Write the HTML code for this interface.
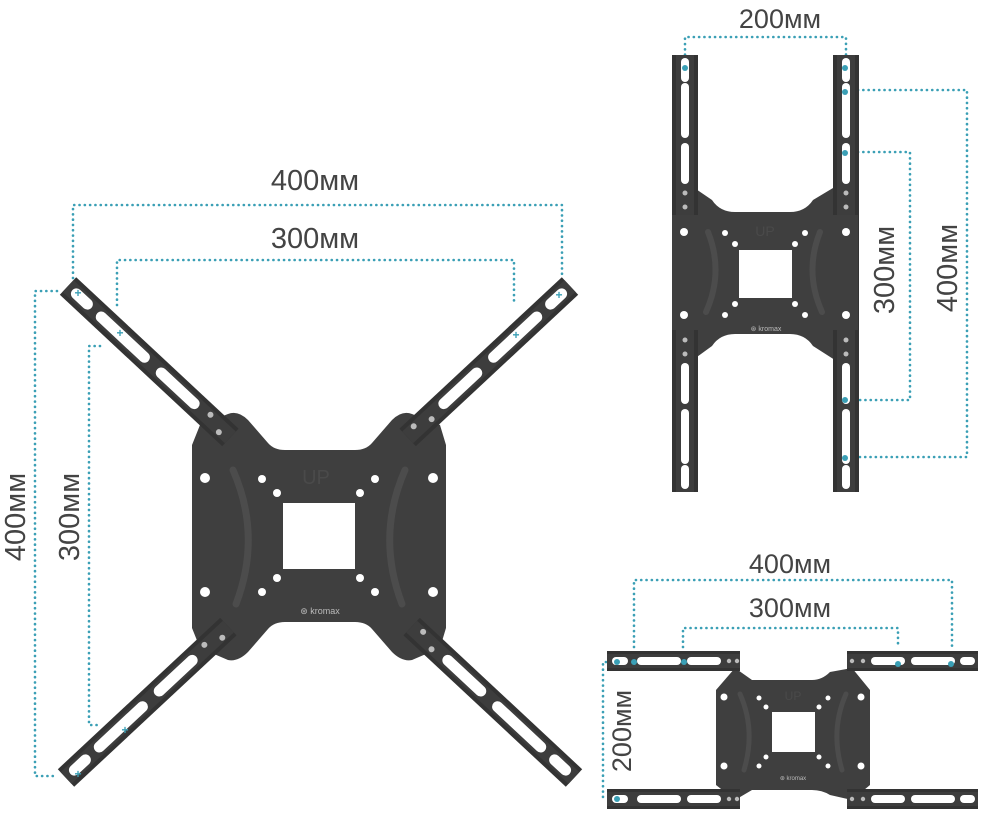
<!DOCTYPE html>
<html><head><meta charset="utf-8"><style>
html,body{margin:0;padding:0;background:#fff;}
svg{display:block;}
text{font-family:"Liberation Sans","DejaVu Sans",sans-serif;fill:#444;}
</style></head><body>
<svg width="984" height="816" viewBox="0 0 984 816" xmlns="http://www.w3.org/2000/svg">
<defs>
 <g id="arm">
  <rect x="0" y="-12" width="222" height="24" fill="#333"/>
  <rect x="0" y="-8" width="222" height="16" fill="#3d3d3d"/>
  <rect x="6" y="-5.5" width="26" height="11" rx="5.5" fill="#fff"/>
  <rect x="40" y="-5.5" width="70" height="11" rx="5.5" fill="#fff"/>
  <rect x="122" y="-5.5" width="56" height="11" rx="5.5" fill="#fff"/>
  <circle cx="192" cy="-3" r="3" fill="#bbb"/>
  <circle cx="210" cy="4" r="3" fill="#bbb"/>
 </g>
 <g id="vbar">
  <rect x="0" y="0" width="26" height="437" fill="#333"/>
  <rect x="4" y="0" width="18" height="437" fill="#3d3d3d"/>
  <rect x="9" y="3" width="8" height="24" rx="4" fill="#fff"/>
  <rect x="9" y="28" width="8" height="55" rx="4" fill="#fff"/>
  <rect x="9" y="88" width="8" height="41" rx="4" fill="#fff"/>
  <circle cx="13" cy="138" r="2.5" fill="#bbb"/>
  <circle cx="13" cy="152" r="2.5" fill="#bbb"/>
  <circle cx="13" cy="285" r="2.5" fill="#bbb"/>
  <circle cx="13" cy="299" r="2.5" fill="#bbb"/>
  <rect x="9" y="308" width="8" height="41" rx="4" fill="#fff"/>
  <rect x="9" y="354" width="8" height="55" rx="4" fill="#fff"/>
  <rect x="9" y="410" width="8" height="24" rx="4" fill="#fff"/>
 </g>
 <g id="hbarL">
  <rect x="0" y="0" width="133" height="20" fill="#333"/>
  <rect x="0" y="3" width="133" height="14" fill="#3d3d3d"/>
  <rect x="5" y="6" width="16" height="8" rx="4" fill="#fff"/>
  <rect x="30" y="6" width="44" height="8" rx="4" fill="#fff"/>
  <rect x="80" y="6" width="34" height="8" rx="4" fill="#fff"/>
  <circle cx="122" cy="10" r="2.2" fill="#bbb"/>
  <circle cx="130" cy="10" r="2.2" fill="#bbb"/>
 </g>
 <g id="hbarR">
  <rect x="0" y="0" width="131" height="20" fill="#333"/>
  <rect x="0" y="3" width="131" height="14" fill="#3d3d3d"/>
  <circle cx="5" cy="10" r="2.2" fill="#bbb"/>
  <circle cx="16" cy="10" r="2.2" fill="#bbb"/>
  <rect x="24" y="6" width="34" height="8" rx="4" fill="#fff"/>
  <rect x="64" y="6" width="44" height="8" rx="4" fill="#fff"/>
  <rect x="113" y="6" width="15" height="8" rx="4" fill="#fff"/>
 </g>
</defs>

<!-- ===== MAIN (X) ===== -->
<g fill="none" stroke="#3a9fb5" stroke-width="2.6" stroke-linecap="round" stroke-dasharray="0.1 5.2">
 <path d="M73 278 V205 H562 V278"/>
 <path d="M117 305 V260 H514 V305"/>
 <path d="M57 291 H35 V776 H57"/>
 <path d="M100 346 H89 V725 H100"/>
</g>
<text x="315" y="190" font-size="29" text-anchor="middle">400мм</text>
<text x="315" y="248" font-size="29" text-anchor="middle">300мм</text>
<text transform="translate(25,517) rotate(-90)" font-size="29" text-anchor="middle">400мм</text>
<text transform="translate(79,517) rotate(-90)" font-size="29" text-anchor="middle">300мм</text>

<path d="M192 445 L200 425 L228 414 Q238 410 248 420 L268 443 Q274 450 285 450 L355 450 Q366 450 372 443 L392 420 Q402 410 412 414 L440 425 L446 445 L446 628 L440 648 L412 660 Q402 662 392 652 L372 629 Q366 622 355 622 L285 622 Q274 622 268 629 L248 652 Q238 662 228 660 L200 648 L192 628 Z" fill="#3f3f3f"/>
<g transform="translate(68,286) rotate(43)"><use href="#arm"/></g>
<g transform="translate(570,286) rotate(137)"><use href="#arm"/></g>
<g transform="translate(66,778) rotate(-43)"><use href="#arm"/></g>
<g transform="translate(574,778) rotate(223)"><use href="#arm"/></g>
<path d="M233 470 Q262 536 236 604" fill="none" stroke="#4c4c4c" stroke-width="7" stroke-linecap="round"/>
<path d="M405 470 Q376 536 402 604" fill="none" stroke="#4c4c4c" stroke-width="7" stroke-linecap="round"/>
<rect x="283" y="503" width="72" height="66" fill="#fff"/>
<g fill="#fff">
 <circle cx="205" cy="478" r="5"/><circle cx="205" cy="592" r="5"/>
 <circle cx="433" cy="478" r="5"/><circle cx="433" cy="592" r="5"/>
 <circle cx="262" cy="479" r="4"/><circle cx="375" cy="479" r="4"/>
 <circle cx="277" cy="493" r="4"/><circle cx="360" cy="493" r="4"/>
 <circle cx="277" cy="578" r="4"/><circle cx="360" cy="578" r="4"/>
 <circle cx="262" cy="592" r="4"/><circle cx="375" cy="592" r="4"/>
</g>
<text x="316" y="484" font-size="20" text-anchor="middle" style="fill:#4a4a4a">UP</text>
<text x="320" y="614" font-size="9" text-anchor="middle" style="fill:#bbb">⊛ kromax</text>
<g font-size="12" font-weight="bold">
 <text x="78" y="297" text-anchor="middle" style="fill:#3a9fb5">+</text>
 <text x="120" y="337" text-anchor="middle" style="fill:#3a9fb5">+</text>
 <text x="559" y="299" text-anchor="middle" style="fill:#3a9fb5">+</text>
 <text x="516" y="339" text-anchor="middle" style="fill:#3a9fb5">+</text>
 <text x="78" y="778" text-anchor="middle" style="fill:#3a9fb5">+</text>
 <text x="125" y="734" text-anchor="middle" style="fill:#3a9fb5">+</text>
</g>

<!-- ===== TOP RIGHT (vertical) ===== -->
<g fill="none" stroke="#3a9fb5" stroke-width="2.6" stroke-linecap="round" stroke-dasharray="0.1 5.2">
 <path d="M685 60 V37 H846 V60"/>
 <path d="M858 90 H967 V457 H858"/>
 <path d="M858 152 H910 V400 H858"/>
</g>
<text x="780" y="28" font-size="27" text-anchor="middle">200мм</text>
<text transform="translate(894,270) rotate(-90)" font-size="29" text-anchor="middle">300мм</text>
<text transform="translate(957,268) rotate(-90)" font-size="29" text-anchor="middle">400мм</text>
<path d="M690 185 L712 200 Q720 212 735 212 L790 212 Q805 212 813 200 L838 185 L857 215 L857 330 L838 362 L813 346 Q805 334 790 334 L735 334 Q720 334 712 346 L690 362 L673 330 L673 215 Z" fill="#3f3f3f"/>
<use href="#vbar" x="672" y="55"/>
<use href="#vbar" x="833" y="55"/>
<rect x="672" y="215" width="186" height="115" fill="#3f3f3f"/>
<path d="M708 232 Q724 272 706 312" fill="none" stroke="#4c4c4c" stroke-width="6" stroke-linecap="round"/>
<path d="M820 232 Q804 272 822 312" fill="none" stroke="#4c4c4c" stroke-width="6" stroke-linecap="round"/>
<rect x="739" y="250" width="53" height="48" fill="#fff"/>
<g fill="#fff">
 <circle cx="684" cy="232" r="4"/><circle cx="846" cy="232" r="4"/>
 <circle cx="684" cy="315" r="4"/><circle cx="846" cy="315" r="4"/>
 <circle cx="725" cy="233" r="3"/><circle cx="805" cy="233" r="3"/>
 <circle cx="735" cy="244" r="3"/><circle cx="795" cy="244" r="3"/>
 <circle cx="735" cy="304" r="3"/><circle cx="795" cy="304" r="3"/>
 <circle cx="725" cy="315" r="3"/><circle cx="805" cy="315" r="3"/>
</g>
<text x="765" y="236" font-size="14" text-anchor="middle" style="fill:#4a4a4a">UP</text>
<text x="766" y="331" font-size="7" text-anchor="middle" style="fill:#bbb">⊛ kromax</text>
<g fill="#3a9fb5">
 <circle cx="685" cy="68" r="3"/><circle cx="845" cy="68" r="3"/>
 <circle cx="845" cy="92" r="3"/><circle cx="845" cy="153" r="3"/>
 <circle cx="845" cy="400" r="3"/><circle cx="845" cy="458" r="3"/>
</g>

<!-- ===== BOTTOM RIGHT (horizontal) ===== -->
<g fill="none" stroke="#3a9fb5" stroke-width="2.6" stroke-linecap="round" stroke-dasharray="0.1 5.2">
 <path d="M634 647 V580 H952 V647"/>
 <path d="M683 647 V628 H898 V647"/>
 <path d="M606 662 H603 V797 H606"/>
</g>
<text x="790" y="573" font-size="27" text-anchor="middle">400мм</text>
<text x="790" y="617" font-size="27" text-anchor="middle">300мм</text>
<text transform="translate(631,731) rotate(-90)" font-size="27" text-anchor="middle">200мм</text>
<path d="M735 668 L752 680 L812 680 Q822 680 830 672 L852 668 L870 690 L870 785 L852 800 L830 795 Q822 790 812 790 L752 790 L735 800 L716 785 L716 690 Z" fill="#3f3f3f"/>
<use href="#hbarL" x="607" y="651"/>
<use href="#hbarR" x="847" y="651"/>
<use href="#hbarL" x="607" y="789"/>
<use href="#hbarR" x="847" y="789"/>
<path d="M740 694 Q756 730 744 770" fill="none" stroke="#4c4c4c" stroke-width="5" stroke-linecap="round"/>
<path d="M846 694 Q830 730 842 770" fill="none" stroke="#4c4c4c" stroke-width="5" stroke-linecap="round"/>
<rect x="772" y="712" width="43" height="40" fill="#fff"/>
<g fill="#fff">
 <circle cx="724" cy="697" r="3.5"/><circle cx="861" cy="697" r="3.5"/>
 <circle cx="724" cy="766" r="3.5"/><circle cx="861" cy="766" r="3.5"/>
 <circle cx="759" cy="698" r="2.5"/><circle cx="828" cy="698" r="2.5"/>
 <circle cx="766" cy="707" r="2.5"/><circle cx="819" cy="707" r="2.5"/>
 <circle cx="766" cy="757" r="2.5"/><circle cx="819" cy="757" r="2.5"/>
 <circle cx="759" cy="766" r="2.5"/><circle cx="828" cy="766" r="2.5"/>
</g>
<text x="793" y="700" font-size="12" text-anchor="middle" style="fill:#4a4a4a">UP</text>
<text x="793" y="780" font-size="6" text-anchor="middle" style="fill:#bbb">⊛ kromax</text>
<g fill="#3a9fb5">
 <circle cx="617" cy="662" r="3"/><circle cx="634" cy="662" r="3"/>
 <circle cx="684" cy="662" r="3"/><circle cx="898" cy="664" r="3"/>
 <circle cx="951" cy="664" r="3"/><circle cx="617" cy="799" r="3"/>
</g>
</svg>
</body></html>
